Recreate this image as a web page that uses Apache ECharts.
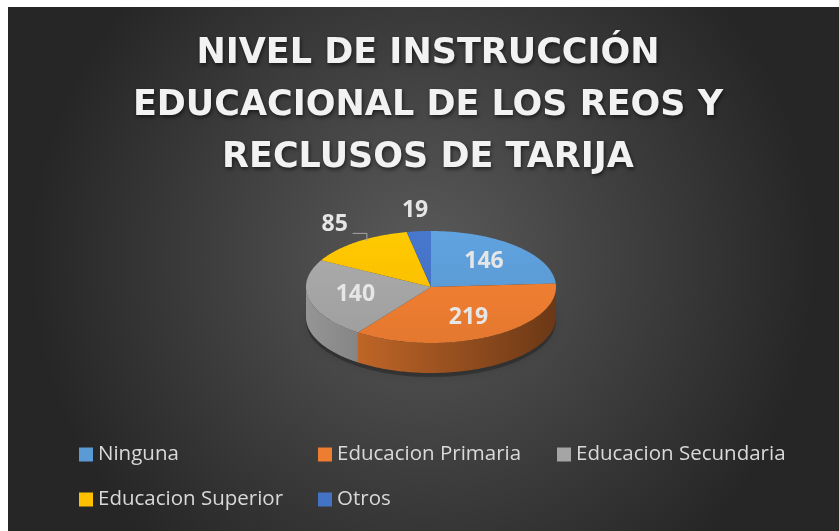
<!DOCTYPE html>
<html lang="es">
<head>
    <meta charset="UTF-8">
    <title>Nivel de instruccion educacional de los reos y reclusos de Tarija</title>
    <script src="https://cdn.jsdelivr.net/npm/echarts@6/dist/echarts.min.js"></script>
    <style>
        html, body {
            margin: 0;
            padding: 0;
            background: #ffffff;
        }
        #chart {
            position: absolute;
            left: 8px;
            top: 7px;
            width: 831px;
            height: 524px;
        }
    </style>
</head>
<body>
<div id="chart"></div>

<script>
    var categories = ['Ninguna', 'Educacion Primaria', 'Educacion Secundaria', 'Educacion Superior', 'Otros'];
    var values = [146, 219, 140, 85, 19];
    var colors = ['#5B9BD5', '#ED7D31', '#A5A5A5', '#FFC000', '#4472C4'];

    var chart = echarts.init(document.getElementById('chart'));

    // pie geometry (pixels inside the chart box)
    var CX = 423, CY = 280, RX = 125, RY = 56, DEPTH = 30;

    var total = values.reduce(function (a, b) { return a + b; }, 0);
    var cum = [];
    values.reduce(function (acc, v, i) { cum[i] = acc; return acc + v; }, 0);

    function shade(hex, k) {
        var n = parseInt(hex.slice(1), 16);
        var r = Math.min(255, Math.round(((n >> 16) & 255) * k));
        var g = Math.min(255, Math.round(((n >> 8) & 255) * k));
        var b = Math.min(255, Math.round((n & 255) * k));
        return 'rgb(' + r + ',' + g + ',' + b + ')';
    }

    function pt(t, dy, f) {
        f = f || 1;
        return [CX + RX * f * Math.sin(t), CY - RY * f * Math.cos(t) + (dy || 0)];
    }

    function arc(a, b, dy) {
        var pts = [];
        var steps = Math.max(2, Math.ceil((b - a) / (Math.PI / 180)));
        for (var s = 0; s <= steps; s++) {
            pts.push(pt(a + (b - a) * s / steps, dy));
        }
        return pts;
    }

    function renderSlice(i) {
        return function (params, api) {
            var a = cum[i] / total * Math.PI * 2;
            var b = (cum[i] + values[i]) / total * Math.PI * 2;
            var color = colors[i];
            var children = [];

            // front wall
            var sa = Math.max(a, Math.PI / 2), sb = Math.min(b, Math.PI * 1.5);
            if (sa < sb) {
                var wall = arc(sa, sb, 0).concat(arc(sa, sb, DEPTH).reverse());
                children.push({
                    type: 'polygon',
                    shape: { points: wall },
                    style: {
                        fill: new echarts.graphic.LinearGradient(CX - RX, 0, CX + RX, 0, [
                            { offset: 0, color: shade(color, 0.9) },
                            { offset: 1, color: shade(color, 0.45) }
                        ], true)
                    }
                });
            }

            // top face
            children.push({
                type: 'polygon',
                shape: { points: [[CX, CY]].concat(arc(a, b, 0)) },
                style: {
                    fill: new echarts.graphic.LinearGradient(0, CY - RY, 0, CY + RY, [
                        { offset: 0, color: shade(color, 1.05) },
                        { offset: 1, color: shade(color, 0.96) }
                    ], true)
                }
            });

            // label
            var mid = (a + b) / 2;
            var outside = values[i] / total < 0.16;
            var lp = outside ? pt(mid, -4, 1.3) : pt(mid, 0, 0.62);
            children.push({
                type: 'text',
                style: {
                    text: String(values[i]),
                    x: lp[0],
                    y: lp[1],
                    fill: '#e6e6e6',
                    fontFamily: 'Open Sans',
                    fontWeight: 'bold',
                    fontSize: 23,
                    align: 'center',
                    verticalAlign: 'middle'
                },
                z2: 10
            });
            if (outside) {
                var edge = pt(mid, 0, 1);
                var right = lp[0] + 14;
                if (edge[0] - right > 5) {
                    children.push({
                        type: 'polyline',
                        shape: { points: [[right + 4, lp[1] + 9], [edge[0] + 10, lp[1] + 9], [edge[0] + 10, edge[1] - 1]] },
                        style: { stroke: '#a6a6a6', lineWidth: 1, fill: null },
                        z2: 10
                    });
                }
            }

            return { type: 'group', children: children };
        };
    }

    var series = categories.map(function (name, i) {
        return {
            name: name,
            type: 'custom',
            coordinateSystem: 'none',
            itemStyle: { color: colors[i] },
            data: [[values[i]]],
            renderItem: renderSlice(i),
            silent: true
        };
    });

    function legendCol(left, names) {
        return {
            orient: 'vertical',
            left: left,
            top: 437,
            padding: 0,
            itemWidth: 14,
            itemHeight: 14,
            itemGap: 24,
            icon: 'rect',
            selectedMode: false,
            data: names,
            textStyle: {
                color: '#d9d9d9',
                fontFamily: 'Open Sans',
                fontSize: 20.5
            }
        };
    }

    chart.setOption({
        animation: false,
        backgroundColor: {
            type: 'radial',
            x: 0.5,
            y: 0.48,
            r: 0.75,
            colorStops: [
                { offset: 0, color: '#5a5a5a' },
                { offset: 1, color: '#262626' }
            ]
        },
        title: {
            text: 'NIVEL DE INSTRUCCIÓN\nEDUCACIONAL DE LOS REOS Y\nRECLUSOS DE TARIJA',
            left: 420,
            top: 21,
            padding: 0,
            textAlign: 'center',
            textStyle: {
                color: '#f2f2f2',
                fontFamily: 'DejaVu Sans',
                fontWeight: 'bold',
                fontSize: 35,
                lineHeight: 52,
                textShadowColor: 'rgba(0,0,0,0.6)',
                textShadowBlur: 4,
                textShadowOffsetX: 1,
                textShadowOffsetY: 2
            }
        },
        legend: [
            legendCol(71, [categories[0], categories[3]]),
            legendCol(310, [categories[1], categories[4]]),
            legendCol(549, [categories[2]])
        ],
        graphic: [{
            type: 'circle',
            shape: { cx: 0, cy: 0, r: RX },
            x: CX,
            y: CY + DEPTH + 4,
            scaleY: RY / RX,
            z: 1,
            style: { fill: 'rgba(0,0,0,0.25)', shadowBlur: 10, shadowColor: 'rgba(0,0,0,0.5)' },
            silent: true
        }],
        series: series
    });
</script>
</body>
</html>
